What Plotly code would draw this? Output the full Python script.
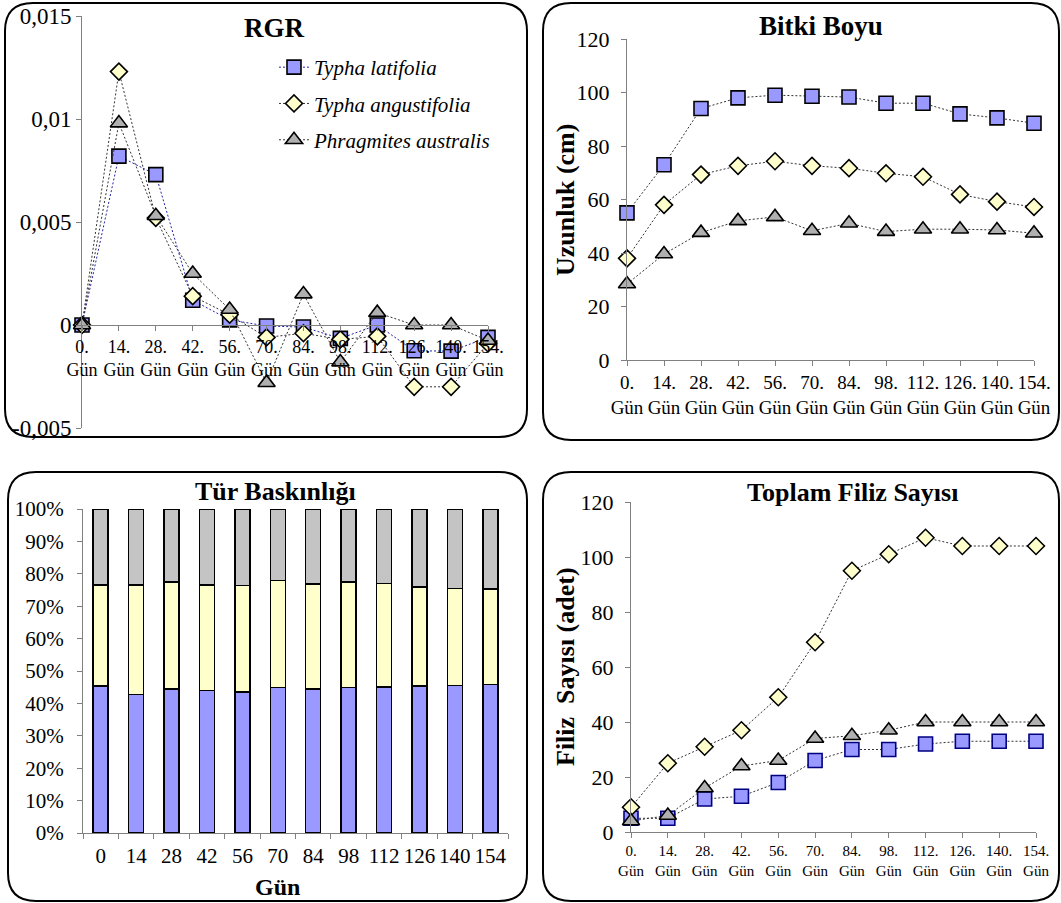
import plotly.graph_objects as go

W, H = 1061, 903
FONT = "Liberation Serif"

# ---------------- data ----------------
days = [0, 14, 28, 42, 56, 70, 84, 98, 112, 126, 140, 154]
line_tick_labels = ["0.<br>Gün", "14.<br>Gün", "28.<br>Gün", "42.<br>Gün", "56.<br>Gün", "70.<br>Gün",
                    "84.<br>Gün", "98.<br>Gün", "112.<br>Gün", "126.<br>Gün", "140.<br>Gün", "154.<br>Gün"]
bar_tick_labels = ["0", "14", "28", "42", "56", "70", "84", "98", "112", "126", "140", "154"]
species = ["Typha latifolia", "Typha angustifolia", "Phragmites australis"]

rgr_latifolia = [0, 0.0082, 0.0073, 0.0012, 0.00025, -0.00005, -0.0001, -0.00065, 0.0, -0.00125, -0.00127, -0.0006]
rgr_angustifolia = [0, 0.0123, 0.0052, 0.0014, 0.0005, -0.0006, -0.0004, -0.0007, -0.00055, -0.003, -0.003, -0.0009]
rgr_phragmites = [0, 0.0098, 0.0053, 0.0025, 0.00075, -0.0028, 0.0015, -0.0018, 0.0006, 0.0, 0.0, -0.00075]
rgr_tickvals = [-0.005, 0, 0.005, 0.01, 0.015]
rgr_ticktext = ["-0,005", "0", "0,005", "0,01", "0,015"]

boy_latifolia = [55, 73, 94, 98, 99, 98.6, 98.3, 96, 96, 92, 90.5, 88.5]
boy_angustifolia = [38, 58, 69.3, 72.6, 74.3, 72.6, 71.7, 69.8, 68.5, 61.9, 59.2, 57.2]
boy_phragmites = [28.4, 39.6, 47.6, 52, 53.5, 48.3, 51.1, 48, 48.9, 48.9, 48.6, 47.4]

share_latifolia = [45.3, 42.7, 44.5, 44.0, 43.5, 44.9, 44.4, 44.9, 45.0, 45.3, 45.5, 45.8]
share_angustifolia = [31.3, 33.9, 32.9, 32.6, 32.9, 33.0, 32.5, 32.6, 32.0, 30.6, 29.9, 29.5]
share_phragmites = [23.4, 23.4, 22.6, 23.4, 23.6, 22.1, 23.1, 22.5, 23.0, 24.1, 24.6, 24.7]

filiz_latifolia = [5, 5, 12, 13, 18, 26, 30, 30, 32, 33, 33, 33]
filiz_angustifolia = [9, 25, 31, 37, 49, 69, 95, 101, 107, 104, 104, 104]
filiz_phragmites = [4, 6, 16, 24, 26, 34, 35, 37, 40, 40, 40, 40]

# ---------------- helpers ----------------
def fx(px):
    return px / W

def fy(py):
    return 1 - py / H

BLUE = "#9999FF"
YELLOW = "#FFFFCC"
GRAY = "#B0B0B0"
DOT = "2px,2px"

fig = go.Figure()

def add_lines(ys, xa, ya, showlegend, sq_edge="#000000", lat_line="#333333"):
    styles = [
        dict(symbol="square", size=14, color=BLUE, edge=sq_edge, line=lat_line),
        dict(symbol="diamond", size=13, color=YELLOW, edge="#000000", line="#333333"),
        dict(symbol="triangle-up", size=15, color=GRAY, edge="#000000", line="#333333"),
    ]
    for name, y, st in zip(species, ys, styles):
        fig.add_trace(go.Scatter(
            x=days, y=y, name=name, mode="lines+markers", xaxis=xa, yaxis=ya,
            showlegend=showlegend, legendgroup=name, cliponaxis=False,
            line=dict(color=st["line"], width=1, dash=DOT),
            marker=dict(symbol=st["symbol"], size=st["size"], color=st["color"],
                        line=dict(color=st["edge"], width=1.6)),
        ))

add_lines([rgr_latifolia, rgr_angustifolia, rgr_phragmites], "x", "y", True, lat_line="#2222AA")
add_lines([boy_latifolia, boy_angustifolia, boy_phragmites], "x2", "y2", False)
add_lines([filiz_latifolia, filiz_angustifolia, filiz_phragmites], "x4", "y4", False, sq_edge="#000080")

for name, vals, col in zip(species, [share_latifolia, share_angustifolia, share_phragmites], [BLUE, YELLOW, "#C4C4C4"]):
    fig.add_trace(go.Bar(x=bar_tick_labels, y=vals, name=name, xaxis="x3", yaxis="y3",
                         showlegend=False, marker=dict(color=col, line=dict(color="#000000", width=1.5))))

AX = "#808080"
axis_common = dict(showgrid=False, zeroline=False, showline=True, linecolor=AX, linewidth=1,
                   ticks="outside", tickcolor=AX, ticklen=5, automargin=False)
tickfont = lambda s: dict(family=FONT, size=s, color="#000000")

fig.update_layout(
    width=W, height=H, autosize=False, margin=dict(l=0, r=0, t=0, b=0, pad=0, autoexpand=False),
    paper_bgcolor="white", plot_bgcolor="rgba(0,0,0,0)",
    barmode="stack", bargap=0.575,
    font=dict(family=FONT, color="#000000"),
    xaxis=dict(domain=[fx(82), fx(488)], range=[0, 154], anchor="free", position=fy(325),
               tickvals=days, ticktext=line_tick_labels, tickfont=tickfont(18), tickangle=0, **axis_common),
    yaxis=dict(domain=[fy(428), fy(16)], range=[-0.005, 0.015], anchor="x",
               tickvals=rgr_tickvals, ticktext=rgr_ticktext, tickfont=tickfont(23), **axis_common),
    xaxis2=dict(domain=[fx(627), fx(1034)], range=[0, 154], anchor="y2",
                tickvals=days, ticktext=line_tick_labels, tickfont=tickfont(19), tickangle=0, **axis_common),
    yaxis2=dict(domain=[fy(360), fy(39)], range=[0, 120], anchor="x2", dtick=20,
                tickfont=tickfont(22), ticklabelstandoff=7, **axis_common),
    xaxis3=dict(domain=[fx(83), fx(508)], anchor="y3", type="category", tickson="boundaries",
                tickfont=tickfont(21), tickangle=0, ticklabelstandoff=4, **axis_common),
    yaxis3=dict(domain=[fy(833), fy(509)], range=[0, 100], anchor="x3", dtick=10, ticksuffix="%",
                tickfont=tickfont(21), ticklabelstandoff=9, **axis_common),
    xaxis4=dict(domain=[fx(631), fx(1036)], range=[0, 154], anchor="y4",
                tickvals=days, ticktext=line_tick_labels, tickfont=tickfont(15), tickangle=0, **axis_common),
    yaxis4=dict(domain=[fy(832), fy(502)], range=[0, 120], anchor="x4", dtick=20,
                tickfont=tickfont(22), ticklabelstandoff=7, **axis_common),
    legend=dict(x=fx(274), y=fy(47), xanchor="left", yanchor="top", bgcolor="rgba(0,0,0,0)",
                font=dict(family=FONT, size=21, style="italic", color="#000000"),
                tracegroupgap=6),
)

def rounded(x0, y0, x1, y1, r):
    pts = [
        ("M", [(x0 + r, y0)]), ("L", [(x1 - r, y0)]), ("Q", [(x1, y0), (x1, y0 + r)]),
        ("L", [(x1, y1 - r)]), ("Q", [(x1, y1), (x1 - r, y1)]), ("L", [(x0 + r, y1)]),
        ("Q", [(x0, y1), (x0, y1 - r)]), ("L", [(x0, y0 + r)]), ("Q", [(x0, y0), (x0 + r, y0)]),
    ]
    s = ""
    for cmd, ps in pts:
        s += cmd + " " + " ".join(f"{fx(a):.5f},{fy(b):.5f}" for a, b in ps) + " "
    return s + "Z"

for box in [(5, 3, 527, 437), (543, 3, 1059, 440), (8, 472, 527, 901), (543, 472, 1059, 901)]:
    fig.add_shape(type="path", path=rounded(*box, 28), xref="paper", yref="paper",
                  line=dict(color="#000000", width=2), layer="below")

def ann(text, x, y, size, angle=0):
    fig.add_annotation(text=text, x=fx(x), y=fy(y), xref="paper", yref="paper", showarrow=False,
                       textangle=angle, xanchor="center", yanchor="middle",
                       font=dict(family=FONT, size=size, color="#000000"))

ann("<b>RGR</b>", 274, 28, 27)
ann("<b>Bitki Boyu</b>", 821, 26, 27)
ann("<b>Tür Baskınlığı</b>", 275, 491, 26)
ann("<b>Toplam Filiz Sayısı</b>", 852, 492, 26)
ann("<b>Uzunluk (cm)</b>", 565, 200, 26, -90)
ann("<b>Filiz\u00a0 Sayısı (adet)</b>", 565, 667, 26, -90)
ann("<b>Gün</b>", 277, 887, 24)

fig.write_html("out.html")
